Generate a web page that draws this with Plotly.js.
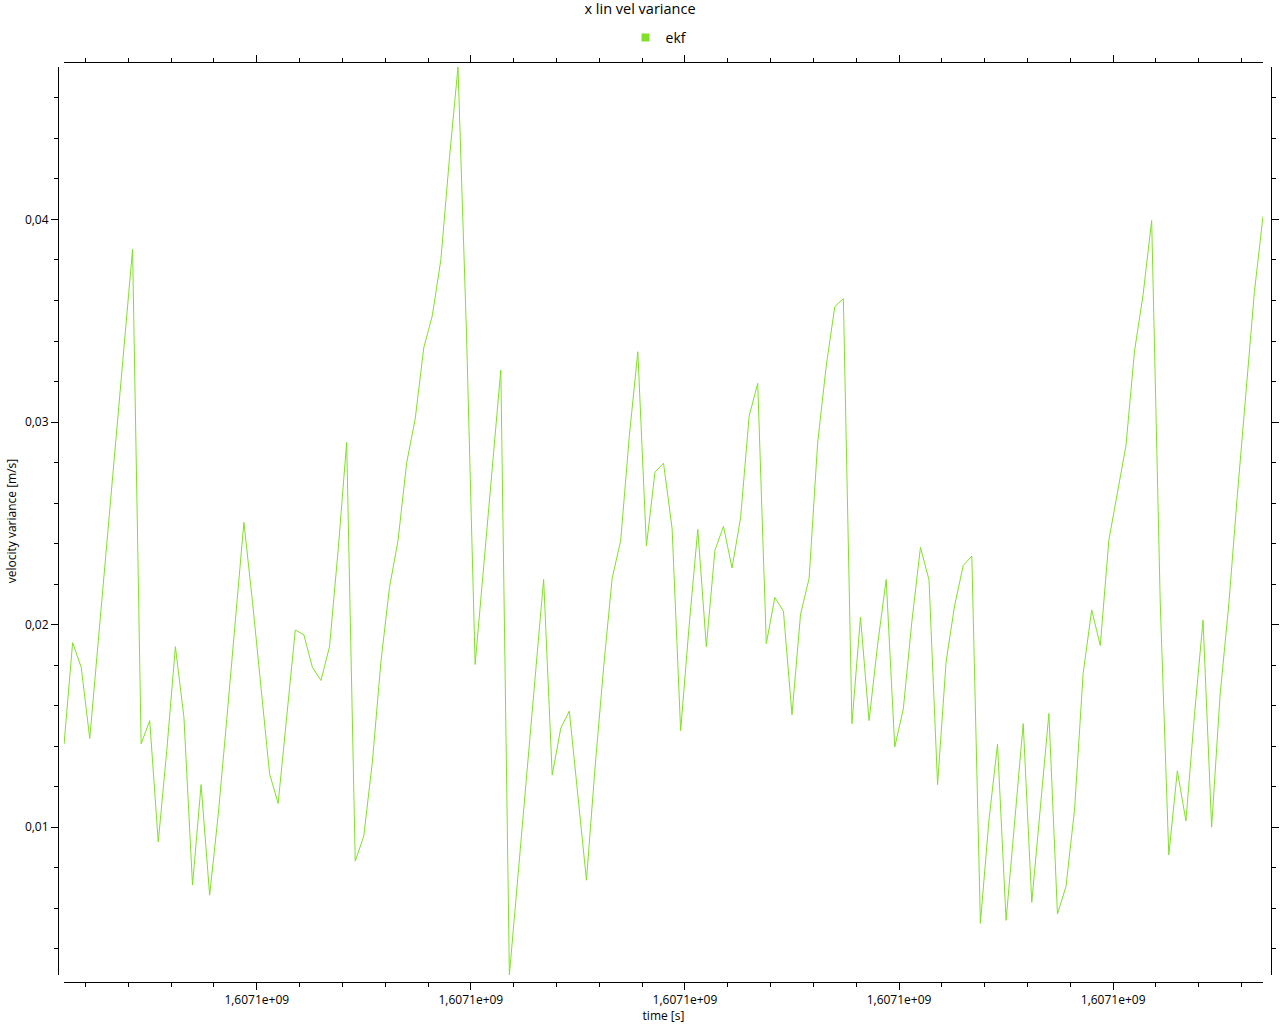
<!DOCTYPE html>
<html>
<head>
<meta charset="utf-8">
<script src="https://cdn.plot.ly/plotly-3.0.1.min.js"></script>
<style>html,body{margin:0;padding:0;background:#fff}#chart{width:1280px;height:1024px}</style>
</head>
<body>
<div id="chart"></div>
<script>
const chartTitle = 'x lin vel variance';
const seriesName = 'ekf';
const xAxisTitle = 'time [s]';
const yAxisTitle = 'velocity variance [m/s]';

const timeS = [
  1607100000.5, 1607100000.7, 1607100000.9, 1607100001.1, 1607100001.3, 1607100001.5, 1607100001.7, 1607100001.9, 1607100002.1, 1607100002.3,
  1607100002.5, 1607100002.7, 1607100002.9, 1607100003.1, 1607100003.3, 1607100003.5, 1607100003.7, 1607100003.9, 1607100004.1, 1607100004.3,
  1607100004.5, 1607100004.7, 1607100004.9, 1607100005.1, 1607100005.3, 1607100005.5, 1607100005.7, 1607100005.9, 1607100006.1, 1607100006.3,
  1607100006.5, 1607100006.7, 1607100006.9, 1607100007.1, 1607100007.3, 1607100007.5, 1607100007.7, 1607100007.9, 1607100008.1, 1607100008.3,
  1607100008.5, 1607100008.7, 1607100008.9, 1607100009.1, 1607100009.3, 1607100009.5, 1607100009.7, 1607100009.9, 1607100010.1, 1607100010.3,
  1607100010.5, 1607100010.7, 1607100010.9, 1607100011.1, 1607100011.3, 1607100011.5, 1607100011.7, 1607100011.9, 1607100012.1, 1607100012.3,
  1607100012.5, 1607100012.7, 1607100012.9, 1607100013.1, 1607100013.3, 1607100013.5, 1607100013.7, 1607100013.9, 1607100014.1, 1607100014.3,
  1607100014.5, 1607100014.7, 1607100014.9, 1607100015.1, 1607100015.3, 1607100015.5, 1607100015.7, 1607100015.9, 1607100016.1, 1607100016.3,
  1607100016.5, 1607100016.7, 1607100016.9, 1607100017.1, 1607100017.3, 1607100017.5, 1607100017.7, 1607100017.9, 1607100018.1, 1607100018.3,
  1607100018.5, 1607100018.7, 1607100018.9, 1607100019.1, 1607100019.3, 1607100019.5, 1607100019.7, 1607100019.9, 1607100020.1, 1607100020.3,
  1607100020.5, 1607100020.7, 1607100020.9, 1607100021.1, 1607100021.3, 1607100021.5, 1607100021.7, 1607100021.9, 1607100022.1, 1607100022.3,
  1607100022.5, 1607100022.7, 1607100022.9, 1607100023.1, 1607100023.3, 1607100023.5, 1607100023.7, 1607100023.9, 1607100024.1, 1607100024.3,
  1607100024.5, 1607100024.7, 1607100024.9, 1607100025.1, 1607100025.3, 1607100025.5, 1607100025.7, 1607100025.9, 1607100026.1, 1607100026.3,
  1607100026.5, 1607100026.7, 1607100026.9, 1607100027.1, 1607100027.3, 1607100027.5, 1607100027.7, 1607100027.9, 1607100028.1, 1607100028.3,
  1607100028.5
];

const velVariance = [
  0.01409, 0.01911, 0.01789, 0.01438, 0.01921, 0.02406, 0.02886, 0.03371, 0.03853, 0.01411,
  0.01526, 0.00927, 0.01381, 0.01891, 0.01540, 0.00714, 0.01210, 0.00664, 0.01061, 0.01532,
  0.02002, 0.02505, 0.02114, 0.01673, 0.01263, 0.01117, 0.01530, 0.01973, 0.01950, 0.01789,
  0.01724, 0.01891, 0.02366, 0.02899, 0.00832, 0.00956, 0.01322, 0.01817, 0.02183, 0.02416,
  0.02797, 0.03015, 0.03366, 0.03525, 0.03802, 0.04302, 0.04753, 0.03426, 0.01803, 0.02287,
  0.02782, 0.03257, 0.00270, 0.00752, 0.01238, 0.01718, 0.02223, 0.01257, 0.01488, 0.01573,
  0.01141, 0.00738, 0.01292, 0.01787, 0.02228, 0.02416, 0.02928, 0.03347, 0.02388, 0.02752,
  0.02797, 0.02475, 0.01476, 0.02000, 0.02470, 0.01891, 0.02366, 0.02485, 0.02279, 0.02528,
  0.03030, 0.03191, 0.01906, 0.02134, 0.02066, 0.01555, 0.02051, 0.02228, 0.02899, 0.03277,
  0.03570, 0.03609, 0.01511, 0.02037, 0.01526, 0.01901, 0.02223, 0.01396, 0.01584, 0.02015,
  0.02381, 0.02221, 0.01210, 0.01818, 0.02096, 0.02292, 0.02338, 0.00525, 0.01035, 0.01409,
  0.00540, 0.01025, 0.01511, 0.00629, 0.01089, 0.01561, 0.00571, 0.00708, 0.01089, 0.01759,
  0.02072, 0.01897, 0.02417, 0.02650, 0.02884, 0.03351, 0.03629, 0.03995, 0.02110, 0.00863,
  0.01278, 0.01030, 0.01555, 0.02022, 0.01000, 0.01658, 0.02096, 0.02636, 0.03161, 0.03644,
  0.04015
];

const xTickVals = [1607100005, 1607100010, 1607100015, 1607100020, 1607100025];
const xTickText = ['1,6071e+09', '1,6071e+09', '1,6071e+09', '1,6071e+09', '1,6071e+09'];

const lineColor = 'rgb(128,225,40)';
const FONT = '"Open Sans", "Noto Sans", sans-serif';

const xRange = [timeS[0], timeS[timeS.length - 1]];
const yRange = [Math.min(...velVariance), Math.max(...velVariance)];

const common = {
  showline: true, linecolor: '#000', linewidth: 1,
  ticks: 'outside', tickcolor: '#000', tickwidth: 1,
  showgrid: false, zeroline: false, fixedrange: true
};
const xDomain = [0.005, 0.9934];
const yDomain = [0.0076, 0.9946];
const xMinor = {tickmode: 'linear', tick0: xTickVals[0], dtick: 1, ticklen: 4, tickcolor: '#000', tickwidth: 1, ticks: 'outside', showgrid: false};
const yMinor = {tickmode: 'linear', tick0: 0, dtick: 0.002, ticklen: 4, tickcolor: '#000', tickwidth: 1, ticks: 'outside', showgrid: false};

const traces = [
  {
    x: timeS, y: velVariance, type: 'scatter', mode: 'lines',
    line: {color: lineColor, width: 1}, name: seriesName, showlegend: false,
    xaxis: 'x', yaxis: 'y', hoverinfo: 'skip'
  },
  {
    x: [null], y: [null], type: 'scatter', mode: 'markers',
    marker: {symbol: 'square', size: 8, color: lineColor},
    name: seriesName, showlegend: true, xaxis: 'x2', yaxis: 'y2', hoverinfo: 'skip'
  }
];

const layout = {
  width: 1280, height: 1024,
  margin: {l: 58, r: 9, t: 62, b: 42, pad: 0},
  paper_bgcolor: '#fff', plot_bgcolor: '#fff',
  font: {family: FONT, size: 12, color: '#000'},
  separators: ',.',
  title: {text: chartTitle, font: {family: FONT, size: 14.5, color: '#000'}, x: 0.5, xref: 'container', y: 0.991, yref: 'container', yanchor: 'middle'},
  showlegend: true,
  legend: {orientation: 'h', x: 0.4955, xanchor: 'center', xref: 'paper', y: 0.963, yref: 'container', yanchor: 'middle',
           font: {family: FONT, size: 14, color: '#000'}, itemwidth: 30, bgcolor: 'rgba(0,0,0,0)'},
  xaxis: Object.assign({}, common, {
    domain: xDomain, anchor: 'free', position: 0, range: xRange,
    tickmode: 'array', tickvals: xTickVals, ticktext: xTickText, ticklen: 7,
    tickfont: {family: FONT, size: 12, color: '#000'}, minor: xMinor,
    title: {text: xAxisTitle, font: {family: FONT, size: 12, color: '#000'}, standoff: 2}
  }),
  xaxis2: Object.assign({}, common, {
    domain: xDomain, anchor: 'free', position: 1, overlaying: 'x', side: 'top', range: xRange,
    tickmode: 'array', tickvals: xTickVals, ticktext: xTickText, ticklen: 7,
    showticklabels: false, minor: xMinor
  }),
  yaxis: Object.assign({}, common, {
    domain: yDomain, anchor: 'free', position: 0, range: yRange,
    tickmode: 'linear', tick0: 0, dtick: 0.01, tickformat: '.2f', ticklen: 7,
    tickfont: {family: FONT, size: 12, color: '#000'}, minor: yMinor,
    title: {text: yAxisTitle, font: {family: FONT, size: 12, color: '#000'}, standoff: 4}
  }),
  yaxis2: Object.assign({}, common, {
    domain: yDomain, anchor: 'free', position: 1, overlaying: 'y', side: 'right', range: yRange,
    tickmode: 'linear', tick0: 0, dtick: 0.01, ticklen: 7,
    showticklabels: false, minor: yMinor
  })
};

Plotly.newPlot('chart', traces, layout, {displayModeBar: false, staticPlot: true});
</script>
</body>
</html>
